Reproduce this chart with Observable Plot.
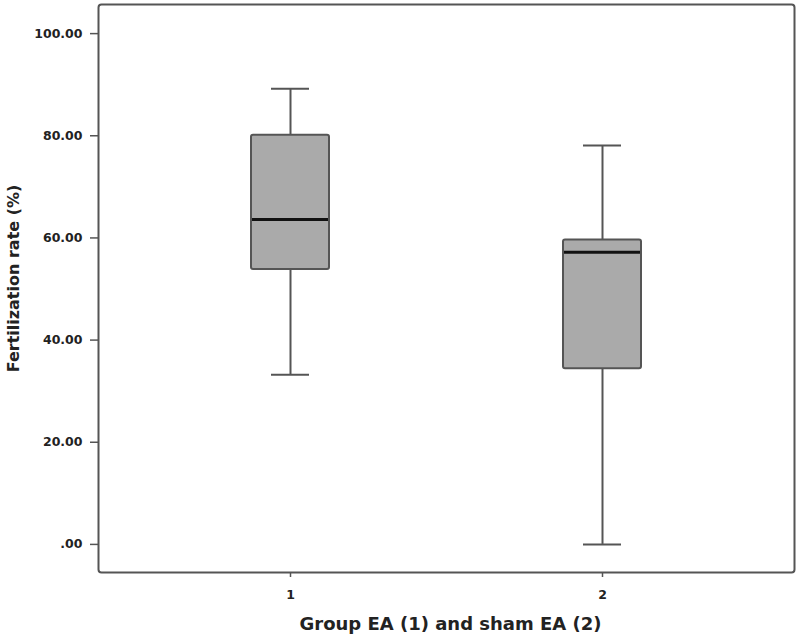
<!DOCTYPE html>
<html>
<head>
<meta charset="utf-8">
<script src="https://cdn.jsdelivr.net/npm/d3@7"></script>
<script src="https://cdn.jsdelivr.net/npm/@observablehq/plot@0.6"></script>
<style>
  html, body { margin: 0; padding: 0; background: #fff; }
</style>
</head>
<body>
<div id="chart"></div>
<script>
const groups = ["1", "2"];
const whiskerLow = [33.2, 0];
const q1 = [53.8, 34.4];
const median = [63.6, 57.2];
const q3 = [80.1, 59.6];
const whiskerHigh = [89.2, 78.1];
const yTicks = [0, 20, 40, 60, 80, 100];
const xTitle = "Group EA (1) and sham EA (2)";
const yTitle = "Fertilization rate (%)";

const data = groups.map((g, i) => ({
  group: g, lo: whiskerLow[i], q1: q1[i], med: median[i], q3: q3[i], hi: whiskerHigh[i]
}));

const edge = "#555";
const chart = Plot.plot({
  width: 800,
  height: 639,
  marginLeft: 98,
  marginRight: 6,
  marginTop: 4,
  marginBottom: 67,
  style: { fontFamily: "DejaVu Sans", fontSize: "12.5px", fontWeight: "bold", color: "#222", background: "#fff" },
  x: { type: "band", domain: groups, paddingInner: 0.75, paddingOuter: 0.487, align: 0.5 },
  y: { domain: [-5.5, 105.7] },
  marks: [
    Plot.axisY({ ticks: yTicks, tickFormat: d => d === 0 ? ".00" : d.toFixed(2), tickSize: 8, tickPadding: 8, label: null, stroke: edge, strokeWidth: 1.5 }),
    Plot.axisX({ tickSize: 5, tickPadding: 13, label: null, stroke: edge, strokeWidth: 1.5 }),
    Plot.ruleX(data, { x: "group", y1: "lo", y2: "q1", stroke: edge, strokeWidth: 2 }),
    Plot.ruleX(data, { x: "group", y1: "q3", y2: "hi", stroke: edge, strokeWidth: 2 }),
    Plot.tickY(data, { x: "group", y: "lo", stroke: edge, strokeWidth: 2, insetLeft: 20, insetRight: 20 }),
    Plot.tickY(data, { x: "group", y: "hi", stroke: edge, strokeWidth: 2, insetLeft: 20, insetRight: 20 }),
    Plot.barY(data, { x: "group", y1: "q1", y2: "q3", fill: "#aaaaaa", stroke: edge, strokeWidth: 2, rx: 2 }),
    Plot.tickY(data, { x: "group", y: "med", stroke: "#111", strokeWidth: 3, insetLeft: 1, insetRight: 1 }),
    Plot.frame({ stroke: edge, strokeWidth: 2, rx: 3 }),
    Plot.text([yTitle], { frameAnchor: "left", textAnchor: "middle", dx: -85, dy: -10, rotate: -90, fontSize: 16, fontWeight: "bold", fill: "#222" }),
    Plot.text([xTitle], { frameAnchor: "bottom", dx: 4, dy: 57, fontSize: 18, fontWeight: "bold", fill: "#222" })
  ]
});
document.getElementById("chart").appendChild(chart);
</script>
</body>
</html>
